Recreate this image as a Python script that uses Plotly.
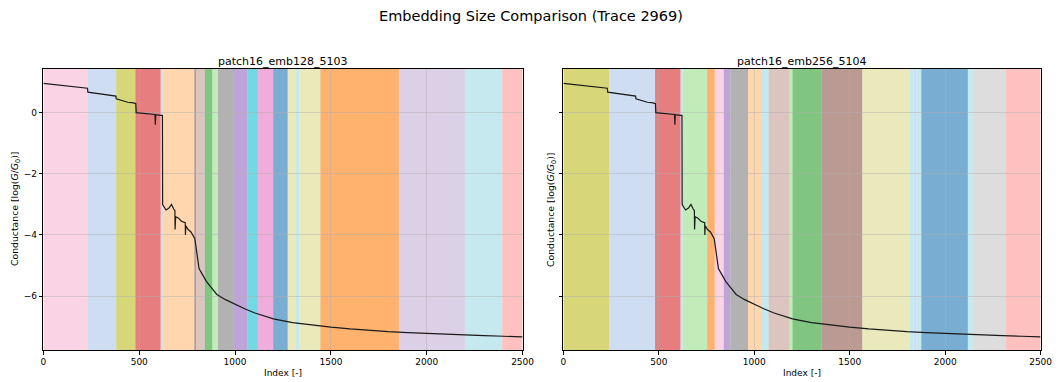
import plotly.graph_objects as go

# ---------------- data ----------------
trace_index = [0, 60, 120, 180, 230, 232, 300, 350, 378, 380, 400, 420, 440, 470, 482, 484,
               540, 582, 584, 586, 610, 621, 622, 640, 655, 668, 680, 686, 687, 690, 705,
               720, 740, 741, 743, 755, 770, 790, 800, 812, 830, 850, 875, 905, 950, 1000,
               1050, 1100, 1200, 1300, 1400, 1500, 1600, 1700, 1800, 1900, 2000, 2100,
               2200, 2300, 2400, 2500]
trace_values = [0.97, 0.93, 0.90, 0.86, 0.81, 0.68, 0.63, 0.58, 0.55, 0.46, 0.42, 0.38, 0.35,
                0.33, 0.30, 0.01, -0.02, -0.05, -0.39, -0.06, -0.08, -0.08, -3.0, -3.18,
                -3.12, -3.0, -3.15, -3.2, -3.82, -3.4, -3.45, -3.55, -3.6, -4.0, -3.7, -3.82,
                -3.9, -4.12, -4.6, -5.1, -5.3, -5.52, -5.72, -5.95, -6.12, -6.28, -6.42,
                -6.55, -6.75, -6.87, -6.95, -7.02, -7.08, -7.13, -7.17, -7.2, -7.23, -7.26,
                -7.28, -7.3, -7.32, -7.34]

tab20 = ["#1f77b4", "#aec7e8", "#ff7f0e", "#ffbb78", "#2ca02c", "#98df8a", "#d62728",
         "#ff9896", "#9467bd", "#c5b0d5", "#8c564b", "#c49c94", "#e377c2", "#f7b6d2",
         "#7f7f7f", "#c7c7c7", "#bcbd22", "#dbdb8d", "#17becf", "#9edae5"]

# segment boundaries and cluster labels (colour index into tab20)
emb128_bounds = [0, 230, 380, 480, 612, 625, 787, 797, 842, 882, 911, 994, 1064, 1119, 1199,
                 1275, 1315, 1337, 1445, 1855, 2199, 2394, 2500]
emb128_labels = [13, 1, 16, 6, 15, 3, 10, 11, 4, 5, 14, 8, 18, 12, 0, 17, 19, 17, 2, 9, 19, 7]

emb256_bounds = [0, 240, 480, 614, 626, 753, 793, 840, 875, 967, 1040, 1075, 1185, 1200, 1353,
                 1566, 1814, 1835, 1850, 1875, 2119, 2145, 2319, 2500]
emb256_labels = [16, 1, 6, 19, 5, 2, 13, 8, 14, 3, 19, 11, 5, 4, 10, 17, 19, 1, 19, 0, 19, 15, 7]

titles = ["patch16_emb128_5103", "patch16_emb256_5104"]
main_title = "Embedding Size Comparison (Trace 2969)"
x_ticks = [0, 500, 1000, 1500, 2000, 2500]
y_ticks = [-6, -4, -2, 0]

# ---------------- figure ----------------
W, H = 1060, 382
fig = go.Figure()


def hx(p):
    # horizontal page position compensation
    return (p - 1.44) / 0.9896 / W


doms = [(hx(42), hx(523)), (hx(564), min(hx(1043), 1.0))]
ydom = (1 - 350 / H, 1 - 69 / H)
font = "DejaVu Sans, Liberation Sans, sans-serif"


def hex_rgba(h, a):
    h = h.lstrip("#")
    return f"rgba({int(h[0:2],16)},{int(h[2:4],16)},{int(h[4:6],16)},{a})"


shapes = []
for k, (bounds, labels) in enumerate([(emb128_bounds, emb128_labels),
                                       (emb256_bounds, emb256_labels)]):
    xr = "x" if k == 0 else "x2"
    yr = "y domain" if k == 0 else "y2 domain"
    for i, lab in enumerate(labels):
        shapes.append(dict(type="rect", xref=xr, yref=yr, x0=bounds[i], x1=bounds[i + 1],
                           y0=0, y1=1, fillcolor=hex_rgba(tab20[lab], 0.6),
                           line=dict(width=0), layer="below"))

for k in range(2):
    fig.add_trace(go.Scatter(x=trace_index, y=trace_values, mode="lines",
                             line=dict(color="#1a1a1a", width=1.2),
                             xaxis="x" if k == 0 else "x2",
                             yaxis="y" if k == 0 else "y2",
                             showlegend=False, hoverinfo="skip"))

axis_common = dict(showline=True, mirror=True, linecolor="black", linewidth=1,
                   ticks="outside", ticklen=3.5, tickcolor="black", tickwidth=1,
                   showgrid=True, gridcolor="rgba(176,176,176,0.45)", gridwidth=1,
                   zeroline=False, tickfont=dict(family=font, size=9, color="black"))

fig.update_layout(
    width=W, height=H,
    margin=dict(l=0, r=0, t=0, b=0),
    paper_bgcolor="white", plot_bgcolor="white",
    shapes=shapes,
    xaxis=dict(domain=doms[0], range=[0, 2500], tickvals=x_ticks, anchor="y", **axis_common),
    xaxis2=dict(domain=doms[1], range=[0, 2500], tickvals=x_ticks, anchor="y2", **axis_common),
    yaxis=dict(domain=ydom, range=[-7.77, 1.44], tickvals=y_ticks,
               ticktext=["\u22126", "\u22124", "\u22122", "0"], anchor="x", **axis_common),
    yaxis2=dict(domain=ydom, range=[-7.77, 1.44], tickvals=y_ticks, showticklabels=False,
                anchor="x2", matches="y", **axis_common),
)

ann = [
    dict(text=main_title, x=hx(531), y=1 - 16 / H, xref="paper", yref="paper",
         showarrow=False, font=dict(family=font, size=14.5, color="black"),
         xanchor="center", yanchor="middle"),
]
for k in range(2):
    cx = (doms[k][0] + doms[k][1]) / 2
    ann.append(dict(text=titles[k], x=cx, y=1 - 61 / H, xref="paper", yref="paper",
                    showarrow=False, font=dict(family=font, size=11, color="black"),
                    xanchor="center", yanchor="middle"))
    ann.append(dict(text="Index [-]", x=cx, y=1 - 373 / H, xref="paper", yref="paper",
                    showarrow=False, font=dict(family=font, size=9, color="black"),
                    xanchor="center", yanchor="middle"))
ylab = "Conductance [log(<i>G</i>/<i>G</i><sub>0</sub>)]"
for px in (14, 552):
    ann.append(dict(text=ylab, x=hx(px), y=(ydom[0] + ydom[1]) / 2, xref="paper", yref="paper",
                    showarrow=False, textangle=-90,
                    font=dict(family=font, size=9.3, color="black"),
                    xanchor="center", yanchor="middle"))
fig.update_layout(annotations=ann)

fig.write_html("out.html")
